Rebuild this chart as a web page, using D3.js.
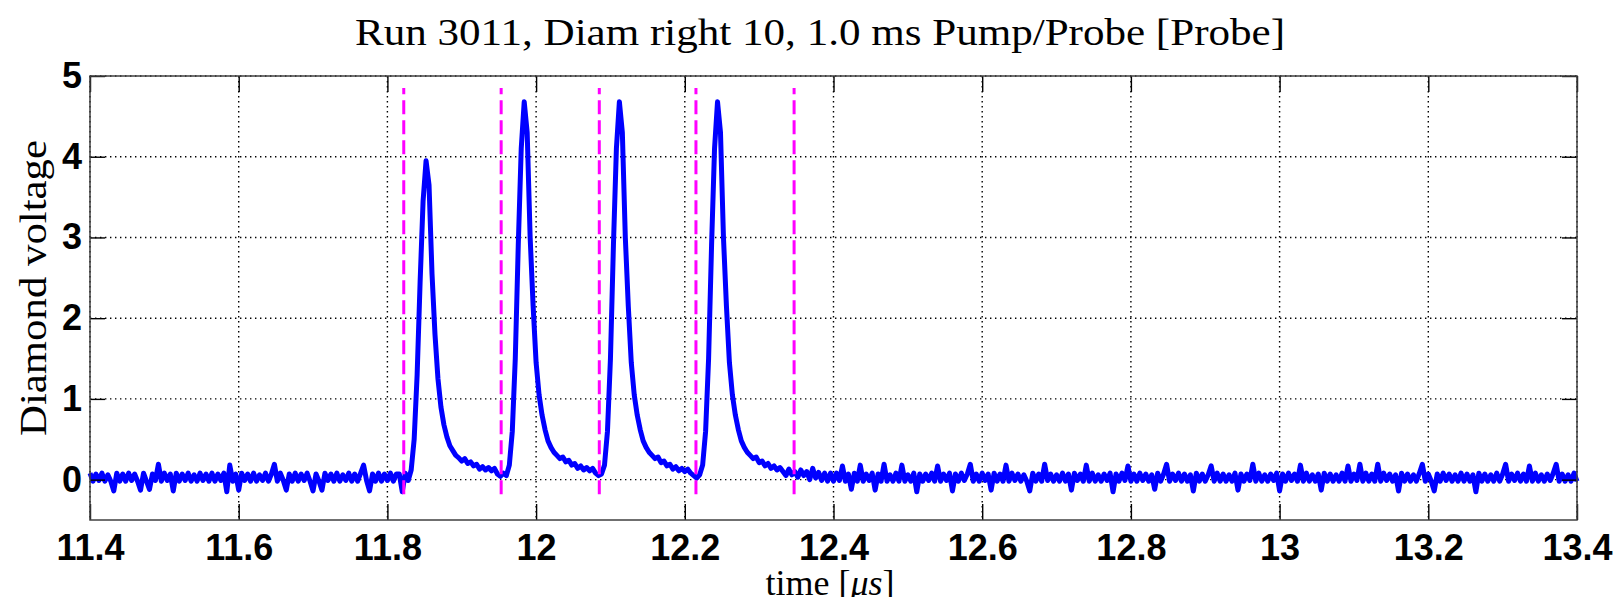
<!DOCTYPE html>
<html>
<head>
<meta charset="utf-8">
<script src="https://cdn.jsdelivr.net/npm/d3@7"></script>
<style>
  html, body { margin: 0; padding: 0; background: #fff; }
  svg { display: block; }
  .tick text { font-family: "Liberation Sans", Arial, sans-serif; font-weight: bold; font-size: 36px; fill: #000; }
  .lbl { font-family: "Liberation Serif", "DejaVu Serif", serif; fill: #000; }
</style>
</head>
<body>
<div id="graf"></div>
<script>
// Datos
const titulo = "Run 3011, Diam right 10, 1.0 ms Pump/Probe [Probe]"
const xTicks = [11.4, 11.6, 11.8, 12, 12.2, 12.4, 12.6, 12.8, 13, 13.2, 13.4]
const xTickLabels = ["11.4", "11.6", "11.8", "12", "12.2", "12.4", "12.6", "12.8", "13", "13.2", "13.4"]
const yTicks = [0, 1, 2, 3, 4, 5]
const markerTimes = [11.822, 11.953, 12.085, 12.215, 12.347]
const markerSpan = [-0.18, 4.85]

// muestreo del osciloscopio: primer tiempo y paso (us)
const sampleStart = 11.4
const sampleStep = 0.004

const voltsBefore = [
  0.08, -0.02, 0.07, -0.01, 0.08, -0.02, 0.06, -0.02, -0.14, 0.08,
  -0.02, 0.07, -0.02, 0.08, -0.01, 0.07, -0.02, -0.13, 0.08, -0.02,
  -0.12, 0.07, -0.01, 0.19, -0.02, 0.08, -0.01, 0.07, -0.14, 0.08,
  -0.02, 0.07, -0.01, 0.08, -0.02, 0.06, -0.02, 0.08, -0.01, 0.07,
  -0.02, 0.08, -0.02, 0.07, -0.01, 0.08, -0.15, 0.18, -0.02, 0.07,
  -0.13, 0.08, -0.01, 0.07, -0.02, 0.08, -0.02, 0.06, -0.01, 0.08,
  -0.02, 0.07, 0.19, -0.02, 0.08, -0.01, -0.13, 0.07, -0.02, 0.08,
  -0.02, 0.07, -0.01, 0.08, -0.02, -0.14, 0.07, -0.02, -0.13, 0.08,
  -0.01, 0.07, -0.02, 0.08, -0.02, 0.06, -0.01, 0.08, -0.02, 0.07,
  -0.02, 0.08, 0.18, -0.01, -0.14, 0.07, -0.02, 0.08, -0.02, 0.07,
  -0.01, 0.08, -0.02, 0.07
]
const voltsPulses = [
  0.07, -0.15, 0.08, -0.01, 0.12, 0.5, 1.3, 2.45, 3.45, 3.95,
  3.65, 2.55, 1.8, 1.25, 0.9, 0.68, 0.53, 0.42, 0.36, 0.3,
  0.27, 0.23, 0.26, 0.2, 0.22, 0.17, 0.19, 0.13, 0.16, 0.12,
  0.15, 0.11, 0.14, 0.07, 0.04, 0.08, 0.05, 0.18, 0.6, 1.5,
  2.9, 4.1, 4.68, 4.3, 3.0, 2.15, 1.45, 1.05, 0.8, 0.62,
  0.48, 0.4, 0.34, 0.3, 0.26, 0.28, 0.22, 0.24, 0.18, 0.2,
  0.14, 0.17, 0.12, 0.15, 0.11, 0.14, 0.08, 0.05, 0.07, 0.18,
  0.6, 1.5, 2.9, 4.1, 4.68, 4.3, 3.0, 2.15, 1.45, 1.05,
  0.8, 0.62, 0.48, 0.4, 0.34, 0.3, 0.26, 0.28, 0.21, 0.23,
  0.17, 0.19, 0.13, 0.16, 0.11, 0.14, 0.1, 0.13, 0.08, 0.05,
  0.02, 0.06, 0.18, 0.6, 1.5, 2.9, 4.1, 4.68, 4.3, 3.0,
  2.15, 1.45, 1.05, 0.8, 0.62, 0.48, 0.4, 0.34, 0.3, 0.26,
  0.28, 0.21, 0.23, 0.17, 0.2, 0.14, 0.17, 0.12, 0.15, 0.1,
  0.05, 0.13, 0.06, 0.1, 0.03, 0.12, 0.05, 0.1, 0.0, 0.14,
  0.02, 0.09, -0.01, 0.08, -0.02, 0.08
]
const voltsAfter = [
  -0.02, 0.08, -0.01, 0.17, -0.02, 0.07, -0.12, 0.08, -0.02, 0.18,
  -0.02, 0.07, -0.01, 0.08, -0.13, 0.07, -0.02, 0.19, -0.02, 0.06,
  -0.02, 0.08, -0.02, 0.18, -0.02, 0.06, -0.02, 0.08, -0.15, 0.07,
  -0.02, 0.07, -0.01, 0.08, -0.02, 0.17, -0.02, 0.07, -0.01, 0.08,
  -0.14, 0.07, -0.02, 0.08, -0.01, 0.07, 0.19, -0.02, 0.07, -0.02,
  0.08, -0.01, 0.07, -0.13, 0.08, -0.02, 0.07, -0.02, 0.18, -0.02,
  0.08, -0.01, 0.07, -0.02, 0.06, -0.02, -0.14, 0.08, -0.02, 0.07,
  -0.02, 0.19, -0.01, 0.07, -0.02, 0.06, -0.02, 0.08, -0.02, 0.07,
  -0.13, 0.08, -0.01, 0.07, -0.02, 0.18, -0.02, 0.08, -0.02, 0.06,
  -0.02, 0.07, -0.01, 0.08, -0.15, 0.07, -0.02, 0.08, -0.01, 0.17,
  -0.02, 0.07, -0.02, 0.08, -0.01, 0.07, -0.02, 0.06, -0.12, 0.08,
  -0.02, 0.07, 0.19, -0.02, 0.07, -0.01, 0.08, -0.02, 0.07, -0.02,
  0.06, -0.14, 0.08, -0.02, 0.07, -0.02, 0.06, 0.17, -0.02, 0.08,
  -0.02, 0.07, -0.02, 0.06, -0.02, 0.08, -0.13, 0.07, -0.02, 0.07,
  -0.01, 0.19, -0.02, 0.08, -0.02, 0.06, -0.02, 0.07, -0.01, 0.08,
  -0.14, 0.07, -0.02, 0.08, -0.01, 0.07, -0.02, 0.18, -0.02, 0.08,
  -0.02, 0.06, -0.02, 0.07, -0.13, 0.08, -0.02, 0.07, -0.02, 0.06,
  -0.02, 0.08, -0.02, 0.17, -0.02, 0.07, -0.01, 0.19, -0.02, 0.08,
  -0.02, 0.07, -0.02, 0.19, -0.02, 0.08, -0.01, 0.07, -0.02, 0.06,
  -0.14, 0.08, -0.02, 0.07, -0.02, 0.06, -0.02, 0.08, 0.19, -0.02,
  0.07, -0.02, -0.14, 0.07, -0.02, 0.08, -0.01, 0.07, -0.02, 0.06,
  -0.02, 0.08, -0.02, 0.07, -0.02, 0.06, -0.15, 0.08, -0.02, 0.07,
  -0.02, 0.06, -0.02, 0.08, -0.02, 0.07, 0.19, -0.02, 0.07, -0.01,
  0.08, -0.02, 0.07, -0.02, 0.17, -0.02, 0.08, -0.02, 0.06, -0.02,
  0.07, -0.01, 0.08, 0.19, -0.02, 0.07, -0.02, 0.06, -0.02, 0.08,
  -0.02
]

const volts = voltsBefore.concat(voltsPulses, voltsAfter)
const trace = volts.map((v, i) => ({ t: sampleStart + i * sampleStep, v: v }))

// Dimensiones
const anchoTotal = 1616
const altoTotal = 597
const margins = { top: 76, right: 39, bottom: 77, left: 90 }
const ancho = anchoTotal - margins.left - margins.right
const alto = altoTotal - margins.top - margins.bottom

const svg = d3.select("#graf")
  .append("svg")
  .attr("width", anchoTotal)
  .attr("height", altoTotal)

const g = svg.append("g")
  .attr("transform", `translate(${margins.left}, ${margins.top})`)

// Escaladores
const x = d3.scaleLinear().domain([11.4, 13.4]).range([0, ancho])
const y = d3.scaleLinear().domain([-0.5, 5]).range([alto, 0])

// Rejilla punteada
g.append("g")
  .selectAll("line")
  .data(xTicks)
  .join("line")
  .attr("x1", (d) => x(d)).attr("x2", (d) => x(d))
  .attr("y1", 0).attr("y2", alto)
g.append("g")
  .selectAll("line")
  .data(yTicks)
  .join("line")
  .attr("x1", 0).attr("x2", ancho)
  .attr("y1", (d) => y(d)).attr("y2", (d) => y(d))
g.selectAll("g line")
  .attr("stroke", "#000")
  .attr("stroke-width", 1.4)
  .attr("stroke-dasharray", "1.4,3.6")

// Traza
const linea = d3.line().x((d) => x(d.t)).y((d) => y(d.v))
g.append("path")
  .datum(trace)
  .attr("d", linea)
  .attr("fill", "none")
  .attr("stroke", "#0000ff")
  .attr("stroke-width", 5)
  .attr("stroke-linejoin", "round")

// Marcadores de pulso
g.append("g")
  .selectAll("line")
  .data(markerTimes)
  .join("line")
  .attr("x1", (d) => x(d)).attr("x2", (d) => x(d))
  .attr("y1", y(markerSpan[0])).attr("y2", y(markerSpan[1]))
  .attr("stroke", "#ff00ff")
  .attr("stroke-width", 3)
  .attr("stroke-dasharray", "14,6")

// Ejes
const axisColor = "#404040"
const xAxisGroup = g.append("g")
  .attr("transform", `translate(0, ${alto})`)
  .call(d3.axisBottom(x).tickValues(xTicks).tickFormat((d, i) => xTickLabels[i])
    .tickSizeInner(-16).tickSizeOuter(0).tickPadding(14))
g.append("g")
  .call(d3.axisTop(x).tickValues(xTicks).tickFormat("").tickSizeInner(-16).tickSizeOuter(0))
const yAxisGroup = g.append("g")
  .call(d3.axisLeft(y).tickValues(yTicks).tickFormat(d3.format("d"))
    .tickSizeInner(-15).tickSizeOuter(0).tickPadding(8))
g.append("g")
  .attr("transform", `translate(${ancho}, 0)`)
  .call(d3.axisRight(y).tickValues(yTicks).tickFormat("").tickSizeInner(-15).tickSizeOuter(0))
g.selectAll(".domain").remove()
g.selectAll(".tick line").attr("stroke", "#000").attr("stroke-width", 1.4).attr("stroke-dasharray", null)

g.append("rect")
  .attr("width", ancho)
  .attr("height", alto)
  .attr("fill", "none")
  .attr("stroke", axisColor)
  .attr("stroke-width", 1.5)

// Textos
svg.append("text")
  .attr("class", "lbl")
  .attr("x", 820)
  .attr("y", 45)
  .attr("text-anchor", "middle")
  .attr("font-size", 37)
  .attr("textLength", 930)
  .attr("lengthAdjust", "spacingAndGlyphs")
  .text(titulo)

svg.append("text")
  .attr("class", "lbl")
  .attr("transform", `translate(46, 288) rotate(-90)`)
  .attr("text-anchor", "middle")
  .attr("font-size", 38)
  .attr("textLength", 296)
  .attr("lengthAdjust", "spacingAndGlyphs")
  .text("Diamond voltage")

const xl = svg.append("text")
  .attr("class", "lbl")
  .attr("x", 830)
  .attr("y", 595)
  .attr("text-anchor", "middle")
  .attr("font-size", 36)
xl.append("tspan").text("time [")
xl.append("tspan").attr("font-style", "italic").text("μs")
xl.append("tspan").text("]")
</script>
</body>
</html>
